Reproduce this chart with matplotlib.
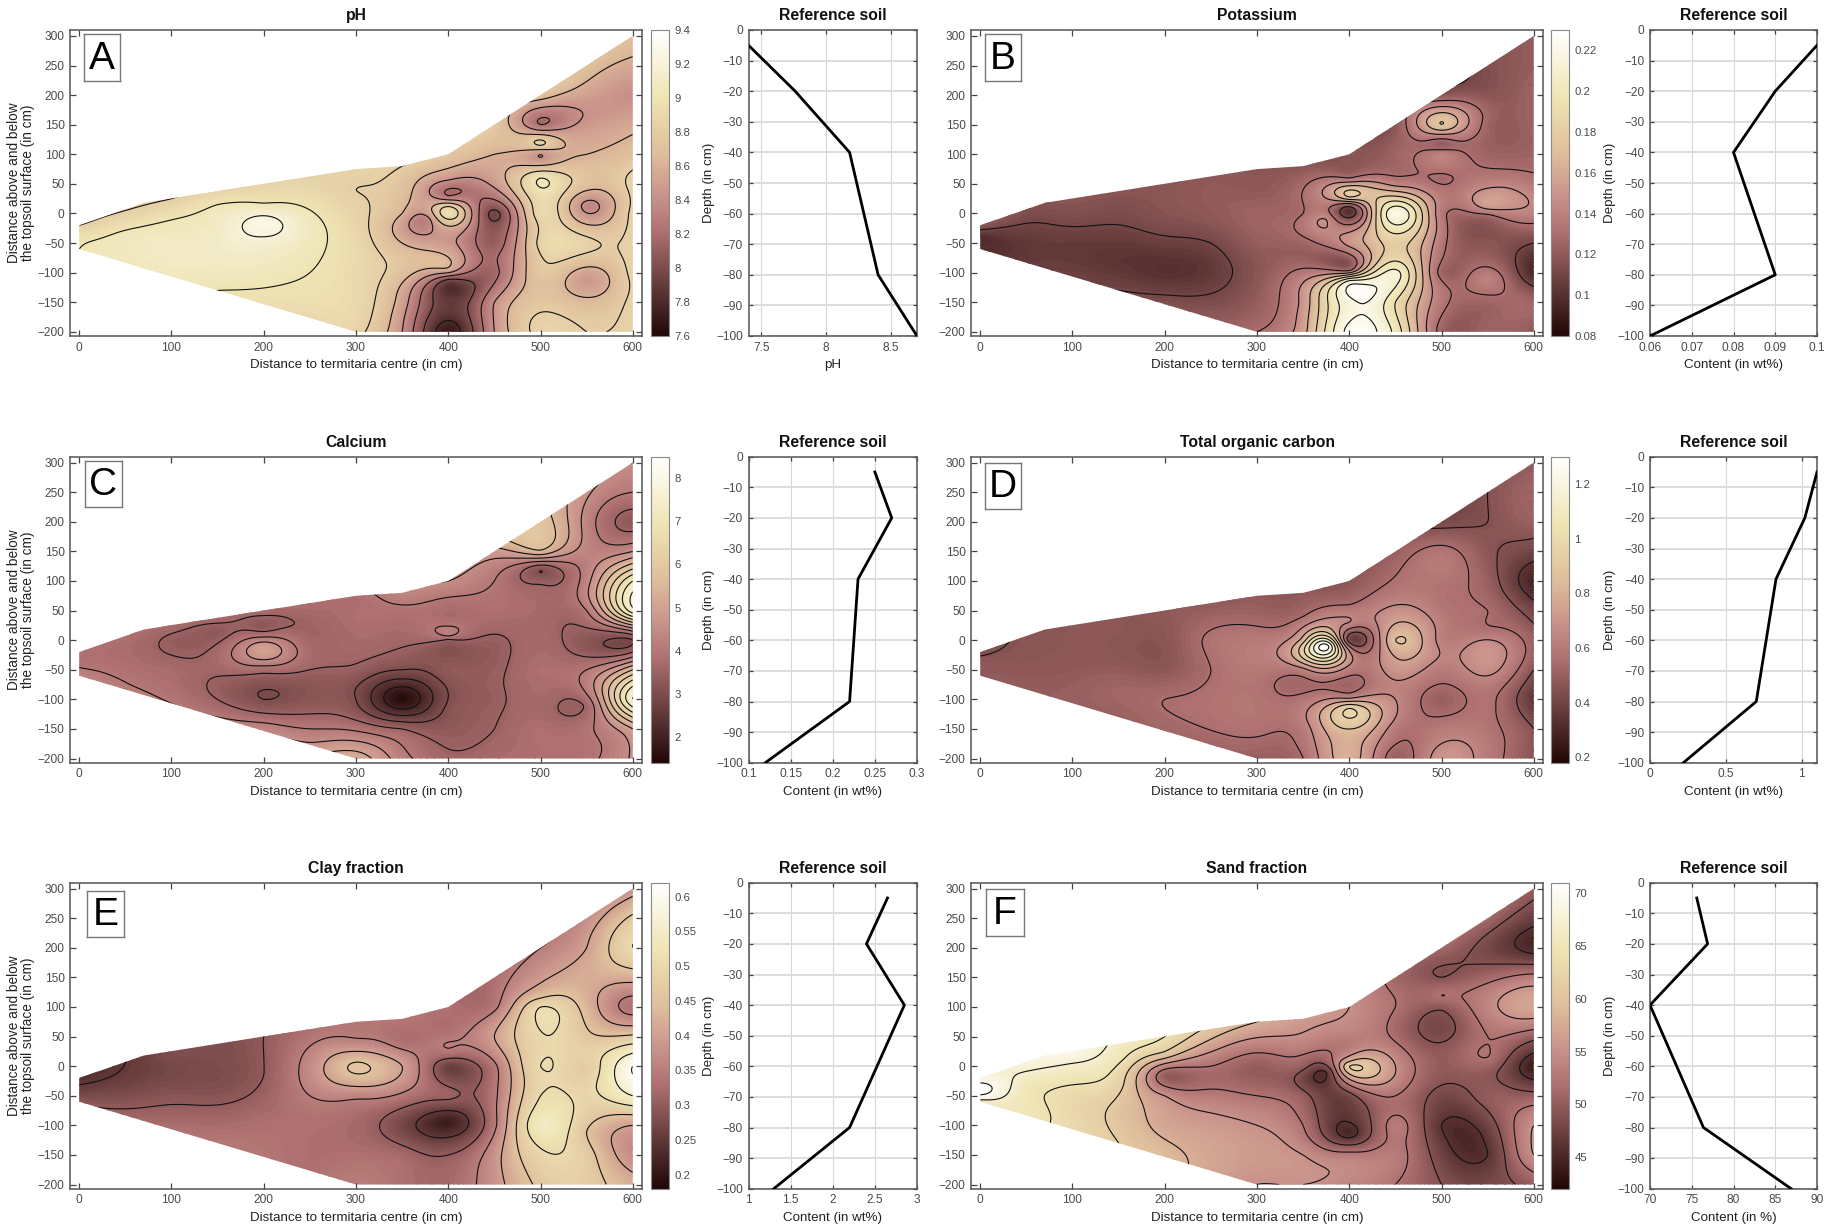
import numpy as np
import matplotlib
matplotlib.use("Agg")
import matplotlib.pyplot as plt
from matplotlib.colors import LinearSegmentedColormap
from matplotlib.patches import PathPatch
from matplotlib.path import Path

plt.rcParams['font.family'] = ['Liberation Sans', 'DejaVu Sans']

W, H = 1842, 1232

# measurement stations: x -> list of y
station_ys = {
    0: [-60, -40, -20],
    50: [-83, -40, 5],
    100: [-107, -50, 0, 25],
    150: [-130, -80, -30, 15, 38],
    200: [-153, -100, -50, -15, 20, 50],
    250: [-177, -100, -50, 0, 62],
    300: [-200, -150, -100, -50, 0, 40, 75],
    350: [-200, -150, -100, -50, 0, 40, 80],
    375: [-10],
    400: [-200, -150, -115, -95, -50, 0, 10, 30, 60, 100],
    450: [-200, -150, -100, -50, 0, 50, 100, 150],
    500: [-200, -150, -100, -50, 0, 60, 100, 118, 150, 200],
    550: [-200, -150, -110, -50, -5, 15, 50, 100, 150, 200, 250],
    600: [-200, -150, -100, -50, 0, 50, 100, 150, 200, 250, 300],
}

ph = [9.0, 8.95, 8.8,
      9.05, 9.05, 8.8,
      9.05, 9.1, 8.95, 8.8,
      9.0, 9.1, 9.1, 9.0, 8.85,
      8.95, 9.05, 9.15, 9.27, 8.98, 8.85,
      8.9, 9.0, 9.05, 9.02, 8.85,
      8.85, 8.9, 8.9, 8.9, 8.85, 8.8, 8.85,
      8.4, 8.5, 8.7, 8.6, 8.6, 8.7, 8.8,
      8.3,
      7.7, 7.9, 7.9, 8.55, 8.45, 8.95, 8.85, 8.2, 8.45, 8.75,
      8.4, 8.4, 8.15, 8.1, 7.95, 8.45, 8.6, 8.75,
      8.85, 8.75, 8.75, 8.85, 8.9, 9.0, 8.4, 8.85, 8.2, 8.7,
      8.8, 8.65, 8.45, 8.85, 8.45, 8.35, 8.7, 8.6, 8.45, 8.5, 8.7,
      8.85, 8.85, 8.85, 8.85, 8.85, 8.85, 8.7, 8.55, 8.4, 8.55, 8.7]

potassium = [.10, .098, .118,
             .105, .105, .115,
             .108, .105, .115, .118,
             .11, .102, .108, .115, .118,
             .115, .10, .107, .115, .118, .118,
             .12, .104, .11, .12, .12,
             .13, .122, .118, .122, .125, .12, .118,
             .155, .15, .135, .125, .13, .13, .118,
             .145,
             .225, .215, .21, .125, .15, .10, .105, .18, .13, .118,
             .20, .19, .21, .18, .22, .14, .125, .118,
             .125, .135, .125, .135, .135, .128, .14, .12, .175, .118,
             .125, .125, .14, .118, .125, .155, .14, .125, .125, .118, .115,
             .12, .125, .095, .11, .14, .135, .125, .125, .125, .122, .122]

calcium = [4.3, 3.9, 3.9,
           4.1, 3.8, 3.8,
           4.0, 3.7, 3.4, 3.7,
           4.0, 3.4, 3.7, 3.3, 3.7,
           4.4, 3.0, 3.7, 5.0, 3.3, 3.7,
           4.6, 3.2, 3.5, 3.6, 3.8,
           5.3, 3.9, 3.0, 3.4, 3.7, 3.8, 3.8,
           4.2, 3.5, 1.5, 3.0, 3.6, 3.8, 4.3,
           3.4,
           3.6, 3.3, 3.1, 3.0, 3.3, 3.4, 4.2, 3.8, 3.8, 4.5,
           3.7, 3.5, 3.4, 3.4, 3.4, 3.8, 4.0, 4.8,
           3.8, 3.8, 3.7, 3.8, 3.7, 3.7, 3.4, 3.0, 5.4, 5.8,
           3.9, 3.9, 3.6, 4.0, 3.2, 3.4, 4.0, 4.3, 4.3, 4.3, 4.6,
           4.6, 5.0, 7.5, 5.5, 3.0, 7.3, 7.0, 4.5, 3.3, 4.0, 4.5]

carbon = [.48, .47, .44,
          .49, .47, .46,
          .5, .48, .47, .47,
          .5, .52, .47, .47, .47,
          .52, .55, .47, .46, .47, .48,
          .52, .57, .55, .57, .48,
          .5, .57, .58, .6, .6, .52, .48,
          .55, .6, .58, .62, .8, .55, .48,
          1.3,
          .8, .85, .95, .6, .6, .4, .45, .65, .55, .47,
          .5, .6, .65, .7, .85, .68, .56, .5,
          .7, .6, .5, .6, .62, .58, .58, .6, .58, .42,
          .6, .58, .57, .68, .68, .57, .55, .5, .47, .45, .45,
          .45, .45, .35, .45, .5, .4, .28, .4, .5, .52, .48]

clay = [.29, .26, .24,
        .31, .27, .25,
        .33, .29, .27, .28,
        .34, .31, .28, .28, .28,
        .34, .33, .31, .3, .3, .3,
        .33, .33, .35, .37, .33,
        .35, .33, .32, .36, .46, .36, .34,
        .33, .32, .27, .34, .40, .33, .34,
        .33,
        .32, .3, .24, .21, .31, .26, .29, .35, .33, .33,
        .38, .38, .34, .34, .34, .40, .34, .33,
        .46, .49, .54, .5, .5, .5, .5, .44, .39, .35,
        .47, .47, .45, .49, .47, .48, .46, .43, .42, .4, .37,
        .42, .37, .4, .55, .6, .46, .33, .42, .5, .46, .38]

sand = [66, 72, 68,
        65, 65, 68,
        63, 63, 66.5, 69,
        61, 60, 62, 65, 66,
        59, 57, 55, 50, 60, 64,
        57, 56, 53, 52, 60,
        55, 56, 55, 52, 50, 54, 58,
        55, 55, 52, 50, 50, 54, 56,
        46,
        54, 53, 45, 46, 48, 61, 57, 53, 54, 55,
        52, 53, 53, 52, 55, 51.5, 52, 51,
        49, 47.5, 46, 48, 50, 48, 49.5, 52, 49, 51,
        48, 46, 47, 50, 50, 52, 52, 54, 51, 48, 51,
        50, 55, 55, 50, 44, 50, 57, 53, 45, 47, 50]

outline_x = [0, 70, 300, 350, 400, 600, 600, 300, 0]
outline_y = [-20, 18, 75, 80, 100, 300, -200, -200, -60]

# reference soil profiles
ref_depth = [-5, -20, -40, -80, -100]
ref_ph = [7.4, 7.76, 8.18, 8.4, 8.7]
ref_k = [.1, .09, .08, .09, .06]
ref_ca = [.25, .27, .23, .22, .12]
ref_toc = [1.1, 1.02, .83, .7, .22]
ref_clay = [2.65, 2.4, 2.85, 2.2, 1.3]
ref_sand = [75.6, 76.9, 70, 76.4, 86.9]

cmap = LinearSegmentedColormap.from_list('soil', [
    (0.00, '#210606'), (0.15, '#5d3636'), (0.33, '#ab6d6d'), (0.45, '#c8908a'),
    (0.60, '#dfbf9c'), (0.78, '#efe4b4'), (0.90, '#f8f3dc'), (1.00, '#ffffff')])

GREY = '#4a4a4a'

panels = [
    dict(letter='A', title='pH', z=ph, vmin=7.6, vmax=9.4,
         levels=[7.8, 8.0, 8.2, 8.4, 8.6, 8.8, 9.0, 9.2],
         cticks=[7.6, 7.8, 8, 8.2, 8.4, 8.6, 8.8, 9, 9.2, 9.4],
         ref=ref_ph, rlim=(7.4, 8.7), rticks=[7.5, 8, 8.5], rlabel='pH',
         col=0, row=0, box=(83.6, 120.4, 34, 81)),
    dict(letter='B', title='Potassium', z=potassium, vmin=.08, vmax=.23,
         levels=[.09, .11, .13, .145, .16, .175, .19, .205, .22],
         cticks=[.1, .12, .14, .16, .18, .2, .22, .08],
         ref=ref_k, rlim=(.06, .1), rticks=[.06, .07, .08, .09, .1], rlabel='Content (in wt%)',
         col=1, row=0, box=(985, 1021, 34, 81)),
    dict(letter='C', title='Calcium', z=calcium, vmin=1.4, vmax=8.5,
         levels=[2, 2.5, 3, 3.5, 4, 4.5, 5, 5.5, 6, 6.5, 7, 7.5],
         cticks=[2, 3, 4, 5, 6, 7, 8],
         ref=ref_ca, rlim=(.1, .3), rticks=[.1, .15, .2, .25, .3], rlabel='Content (in wt%)',
         col=0, row=1, box=(85, 121.6, 461, 507)),
    dict(letter='D', title='Total organic carbon', z=carbon, vmin=.18, vmax=1.3,
         levels=[.35, .45, .55, .65, .75, .85, .95, 1.05, 1.15, 1.25],
         cticks=[.2, .4, .6, .8, 1, 1.2],
         ref=ref_toc, rlim=(0, 1.1), rticks=[0, .5, 1], rlabel='Content (in wt%)',
         col=1, row=1, box=(985, 1021, 463, 509)),
    dict(letter='E', title='Clay fraction', z=clay, vmin=.18, vmax=.62,
         levels=[.2, .25, .3, .35, .4, .45, .5, .55, .6],
         cticks=[.2, .25, .3, .35, .4, .45, .5, .55, .6],
         ref=ref_clay, rlim=(1, 3), rticks=[1, 1.5, 2, 2.5, 3], rlabel='Content (in wt%)',
         col=0, row=2, box=(87, 124, 890.7, 936.7)),
    dict(letter='F', title='Sand fraction', z=sand, vmin=42, vmax=71,
         levels=[46, 49, 52, 55, 58, 61, 64, 67, 70],
         cticks=[45, 50, 55, 60, 65, 70],
         ref=ref_sand, rlim=(70, 90), rticks=[70, 75, 80, 85, 90], rlabel='Content (in %)',
         col=1, row=2, box=(986, 1024, 889, 936)),
]

col_px = [dict(main=(70, 642), bar=(651, 669), ref=(748.5, 917)),
          dict(main=(971, 1543), bar=(1551, 1569), ref=(1650, 1817))]
row_px = [(30, 336), (456.7, 762.7), (882.7, 1188.7)]

fig = plt.figure(figsize=(W / 100, H / 100), dpi=100, facecolor='white')


def px_axes(xr, yr):
    return fig.add_axes([xr[0] / W, 1 - yr[1] / H, (xr[1] - xr[0]) / W, (yr[1] - yr[0]) / H])


def style(ax):
    for s in ax.spines.values():
        s.set_color('#555555')
        s.set_linewidth(1.1)
    ax.tick_params(direction='in', top=True, right=True, length=4, width=0.9,
                   color='#444444', labelcolor=GREY, labelsize=8.6, pad=4)


sx = np.array([x for x, ys in station_ys.items() for _ in ys], float)
sy = np.array([y for ys in station_ys.values() for y in ys], float)
gx, gy = np.meshgrid(np.linspace(0, 600, 601), np.linspace(-200, 300, 501))


def surface(z):
    # biharmonic spline through the read station values
    z = np.asarray(z, float)
    d = np.hypot(sx[:, None] - sx[None, :], sy[:, None] - sy[None, :])
    G = np.where(d > 0, d ** 2 * (np.log(np.maximum(d, 1e-9)) - 1), 0.0)
    w = np.linalg.solve(G + 8.0 * np.eye(len(z)), z - z.mean())
    r = np.hypot(gx[..., None] - sx, gy[..., None] - sy)
    Q = np.where(r > 0, r ** 2 * (np.log(np.maximum(r, 1e-9)) - 1), 0.0)
    return Q @ w + z.mean()


outline = Path(np.column_stack([outline_x + outline_x[:1], outline_y + outline_y[:1]]), closed=True)

for p in panels:
    c, yr = col_px[p['col']], row_px[p['row']]
    ax = px_axes(c['main'], yr)
    style(ax)
    Z = np.clip(surface(p['z']), p['vmin'], p['vmax'])
    fill = np.linspace(p['vmin'], p['vmax'], 90)
    cf = ax.contourf(gx, gy, Z, levels=fill, cmap=cmap, vmin=p['vmin'], vmax=p['vmax'])
    cl = ax.contour(gx, gy, Z, levels=p['levels'], colors='#111111', linewidths=0.8)
    clip = PathPatch(outline, transform=ax.transData, facecolor='none', edgecolor='none')
    ax.add_patch(clip)
    cf.set_clip_path(clip)
    cl.set_clip_path(clip)
    ax.set_xlim(-10, 610)
    ax.set_ylim(-207, 310)
    ax.set_xticks([0, 100, 200, 300, 400, 500, 600])
    ax.set_yticks([-200, -150, -100, -50, 0, 50, 100, 150, 200, 250, 300])
    ax.set_title(p['title'], fontsize=11.3, fontweight='bold', color='#111111', pad=7)
    ax.set_xlabel('Distance to termitaria centre (in cm)', fontsize=9.6, color='#222222', labelpad=4)
    if p['col'] == 0:
        ax.set_ylabel('Distance above and below\nthe topsoil surface (in cm)', fontsize=9.8,
                      color='#222222', labelpad=2, linespacing=1.0)
    # panel letter
    bx = p['box']
    lab = px_axes(bx[:2], bx[2:])
    lab.set_xticks([])
    lab.set_yticks([])
    for s in lab.spines.values():
        s.set_color('#777777')
        s.set_linewidth(1.0)
    lab.text(0.5, 0.47, p['letter'], transform=lab.transAxes, ha='center', va='center',
             fontsize=28, color='black')
    # colour bar
    cax = px_axes(c['bar'], yr)
    sm = plt.cm.ScalarMappable(cmap=cmap, norm=plt.Normalize(p['vmin'], p['vmax']))
    cb = fig.colorbar(sm, cax=cax)
    cb.set_ticks(p['cticks'])
    cb.set_ticklabels(['%g' % t for t in p['cticks']])
    cb.ax.tick_params(length=0, labelsize=8.2, labelcolor=GREY, pad=4)
    cb.outline.set_edgecolor('#888888')
    cb.outline.set_linewidth(0.8)
    # reference soil profile
    rax = px_axes(c['ref'], yr)
    style(rax)
    rax.plot(p['ref'], ref_depth, color='black', lw=2.0, zorder=3)
    rax.set_xlim(*p['rlim'])
    rax.set_ylim(-100, 0)
    rax.set_xticks(p['rticks'])
    rax.set_xticklabels(['%g' % t for t in p['rticks']])
    rax.set_yticks(np.arange(-100, 1, 10))
    rax.xaxis.grid(True, color='#d6d6d6', lw=0.8)
    rax.yaxis.grid(True, color='#dddddd', lw=1.4)
    rax.tick_params(length=3)
    rax.set_title('Reference soil', fontsize=11.3, fontweight='bold', color='#111111', pad=7)
    rax.set_xlabel(p['rlabel'], fontsize=9.6, color='#222222', labelpad=4)
    rax.set_ylabel('Depth (in cm)', fontsize=9.6, color='#222222', labelpad=1)

fig.savefig('out.png', dpi=100, facecolor='white')
